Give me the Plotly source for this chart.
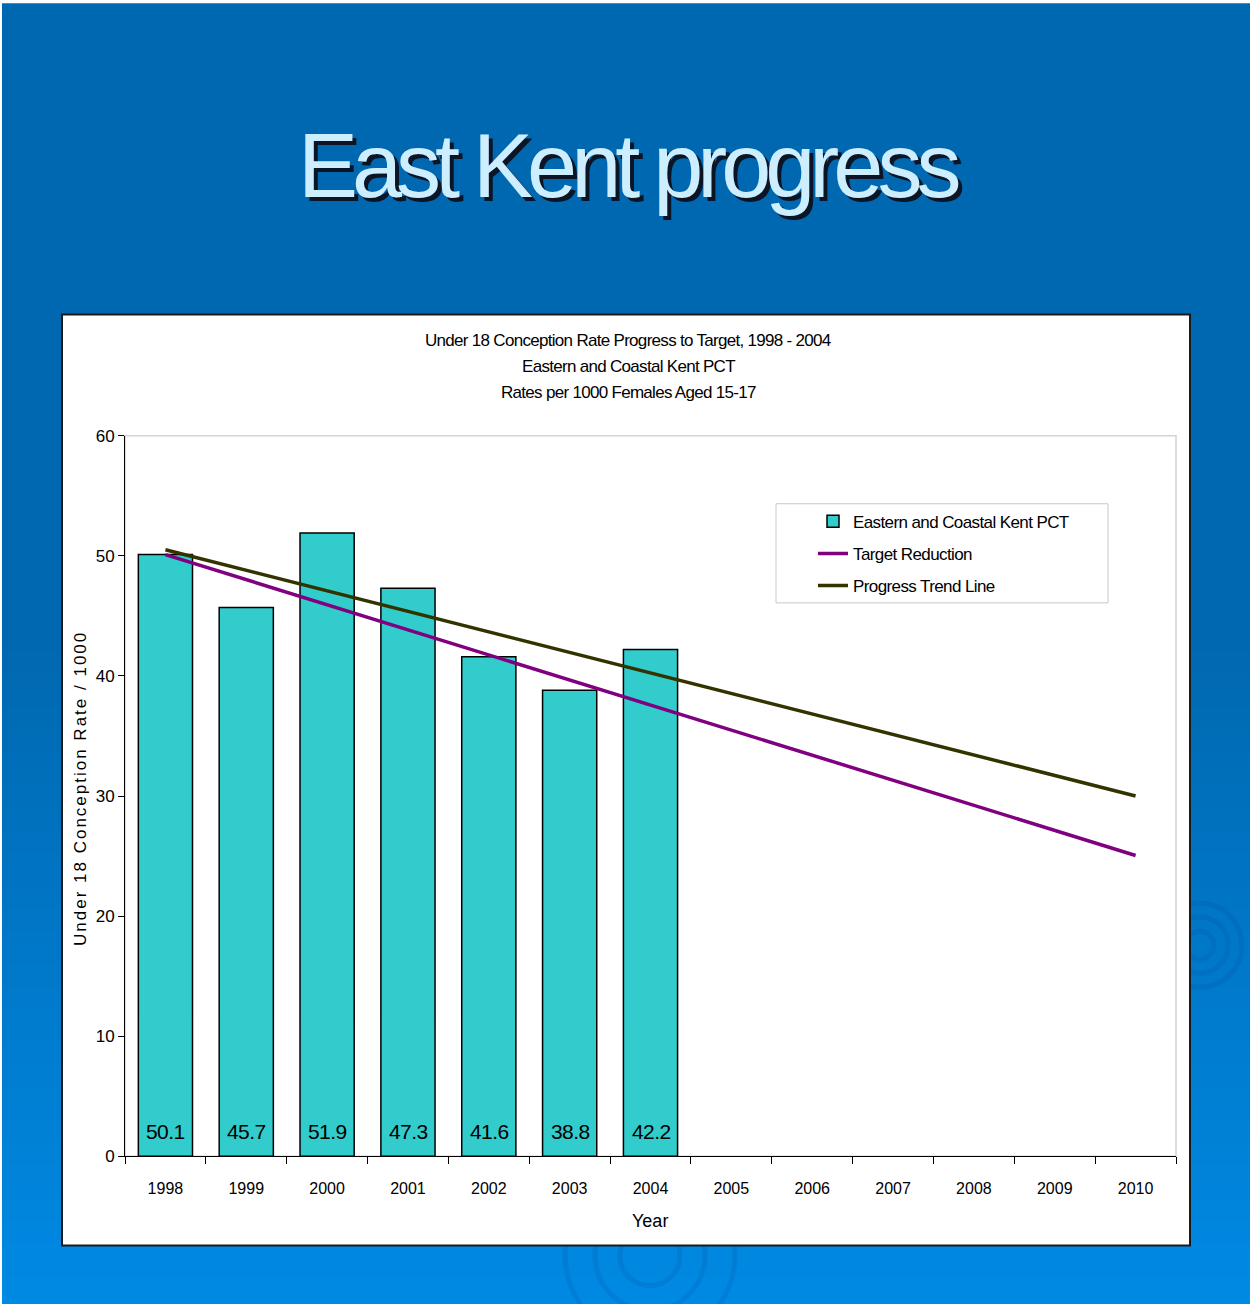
import plotly.graph_objects as go

# ---- data -------------------------------------------------------------
years = [str(y) for y in range(1998, 2011)]
bar_years = ["1998", "1999", "2000", "2001", "2002", "2003", "2004"]
bar_rates = [50.1, 45.7, 51.9, 47.3, 41.6, 38.8, 42.2]

target_years = ["1998", "2010"]
target_rates = [50.1, 25.05]

trend_years = ["1998", "2010"]
trend_rates = [50.5, 30.0]

y_ticks = [0, 10, 20, 30, 40, 50, 60]

# ---- page geometry ----------------------------------------------------
W = 1250
H = 1316                 # figure height
Y_OFF, Y_SCALE = 9.67, 0.9847   # how figure pixels land on the page


def px(x):
    return x / W


def py(y):
    """Page y (pixels from top) -> paper fraction."""
    return 1 - ((y - Y_OFF) / Y_SCALE) / H


def tight(s, sp):
    """Wrap text in a span with adjusted letter spacing."""
    return f'<span style="letter-spacing:{sp}px">{s}</span>'


FONT = "Liberation Sans, Arial, sans-serif"

fig = go.Figure()

fig.add_trace(go.Bar(
    x=bar_years, y=bar_rates,
    name=tight("Eastern and Coastal Kent PCT", -0.6),
    legendgroup="pct",
    marker=dict(color="#33CCCC", line=dict(color="#000000", width=1.5)),
    width=0.67,
))
fig.add_trace(go.Scatter(
    x=target_years, y=target_rates, mode="lines",
    name=tight("Target Reduction", -0.6),
    legendgroup="target",
    line=dict(color="#800080", width=3.5),
))
fig.add_trace(go.Scatter(
    x=trend_years, y=trend_rates, mode="lines",
    name=tight("Progress Trend Line", -0.6),
    legendgroup="trend",
    line=dict(color="#333300", width=3.5),
))

shapes = []
# slide background: solid blue with a lighter gradient towards the foot
shapes.append(dict(type="rect", xref="paper", yref="paper",
                   x0=px(2), x1=px(1250), y0=-0.02, y1=py(4),
                   fillcolor="#0068B0", line=dict(width=0), layer="below"))
top_c = (0, 104, 176)
bot_c = (0, 138, 228)
g0, g1 = 640, 1310
n = 60
for i in range(n):
    t = (i + 0.5) / n
    c = tuple(int(round(a + (b - a) * t)) for a, b in zip(top_c, bot_c))
    ya = g0 + (g1 - g0) * i / n
    yb = g0 + (g1 - g0) * (i + 1) / n + 1
    shapes.append(dict(type="rect", xref="paper", yref="paper",
                       x0=px(2), x1=px(1250), y0=py(yb), y1=py(ya),
                       fillcolor="rgb(%d,%d,%d)" % c, line=dict(width=0),
                       layer="below"))

# faint ripple rings on the background
for cx, cy, r in [(650, 1255, 30), (650, 1255, 55), (650, 1255, 85),
                  (1200, 945, 14), (1200, 945, 28), (1200, 945, 42)]:
    shapes.append(dict(type="circle", xref="paper", yref="paper",
                       x0=px(cx - r), x1=px(cx + r), y0=py(cy + r), y1=py(cy - r),
                       line=dict(color="rgba(0,70,150,0.15)", width=5),
                       layer="below"))

# white chart panel
shapes.append(dict(type="rect", xref="paper", yref="paper",
                   x0=px(62), x1=px(1190), y0=py(1245), y1=py(315),
                   fillcolor="#FFFFFF", line=dict(color="#1A1A1A", width=2),
                   layer="below"))
# light plot-area frame
shapes.append(dict(type="rect", xref="paper", yref="paper",
                   x0=px(125), x1=px(1176), y0=py(1156), y1=py(436),
                   line=dict(color="#D4D4D4", width=1.5), layer="below"))
# legend frame
shapes.append(dict(type="rect", xref="paper", yref="paper",
                   x0=px(776), x1=px(1108), y0=py(603), y1=py(504),
                   fillcolor="#FFFFFF", line=dict(color="#C8C8C8", width=1),
                   layer="below"))

annotations = []
# slide title with drop shadow
annotations.append(dict(
    text=tight("East Kent progress", -6),
    xref="paper", yref="paper",
    x=px(628), y=py(167), xanchor="center", yanchor="middle",
    showarrow=False,
    font=dict(family=FONT, size=90, color="#CCEEFF",
              shadow="4px 4px 0px #0B1526"),
))

# chart heading
heading = ["Under 18 Conception Rate Progress to Target, 1998 - 2004",
           "Eastern and Coastal Kent PCT",
           "Rates per 1000 Females Aged 15-17"]
for k, line in enumerate(heading):
    annotations.append(dict(
        text=tight(line, -0.7), xref="paper", yref="paper",
        x=px(628), y=py(341 + 26 * k), xanchor="center", yanchor="middle",
        showarrow=False, font=dict(family=FONT, size=17, color="#000000"),
    ))

# y-axis title
annotations.append(dict(
    text=tight("Under 18 Conception Rate / 1000", 2),
    xref="paper", yref="paper", x=px(80), y=py(789),
    xanchor="center", yanchor="middle", textangle=-90, showarrow=False,
    font=dict(family=FONT, size=17, color="#000000"),
))
# x-axis title
annotations.append(dict(
    text="Year", xref="paper", yref="paper", x=px(650), y=py(1221),
    xanchor="center", yanchor="middle", showarrow=False,
    font=dict(family=FONT, size=18, color="#000000"),
))

# value labels near the base of each bar
for yr, v in zip(bar_years, bar_rates):
    annotations.append(dict(
        text=tight(f"{v:.1f}", -0.6), x=years.index(yr), y=0,
        xref="x", yref="y",
        xanchor="center", yanchor="bottom", yshift=11, showarrow=False,
        font=dict(family=FONT, size=21, color="#000000"),
    ))

fig.update_layout(
    width=W, height=H,
    margin=dict(l=0, r=0, t=0, b=0),
    paper_bgcolor="#FFFFFF",
    plot_bgcolor="rgba(0,0,0,0)",
    showlegend=True,
    bargap=0.33,
    legend=dict(
        x=px(813), y=py(504), xanchor="left", yanchor="top",
        bgcolor="rgba(0,0,0,0)", borderwidth=0,
        font=dict(family=FONT, size=17, color="#000000"),
        tracegroupgap=7,
    ),
    xaxis=dict(
        domain=[px(125), px(1176)],
        type="category", categoryorder="array", categoryarray=years,
        range=[-0.5, 12.5],
        showline=True, linecolor="#000000", linewidth=1,
        ticks="outside", tickson="boundaries", ticklen=7,
        tickcolor="#000000", tickwidth=1,
        tickfont=dict(family=FONT, size=16, color="#000000"),
        ticklabelstandoff=17,
        showgrid=False, zeroline=False,
        anchor="y",
    ),
    yaxis=dict(
        domain=[py(1156), py(436)],
        range=[0, 60], tickvals=y_ticks,
        showline=True, linecolor="#000000", linewidth=1,
        ticks="outside", ticklen=6, tickcolor="#000000", tickwidth=1,
        tickfont=dict(family=FONT, size=17, color="#000000"),
        showgrid=False, zeroline=False,
        anchor="x",
    ),
    shapes=shapes,
    annotations=annotations,
)

# page backdrop around the graph div
fig.write_html(
    "out.html",
    post_script="document.documentElement.style.background="
                "'linear-gradient(to bottom, #ffffff 0px, #ffffff 4px, "
                "#0068B0 4px, #0068B0 50%, #008AE4 100%)';",
)
